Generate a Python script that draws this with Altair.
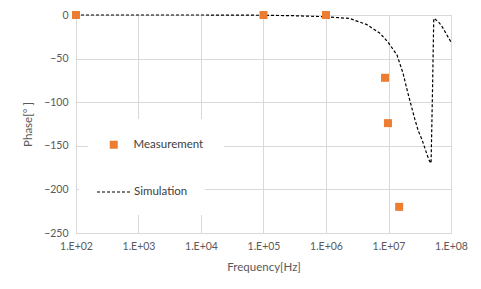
import altair as alt
import pandas as pd

meas_freq = [1e2, 1e5, 1e6, 8.8e6, 9.8e6, 1.48e7]
meas_phase = [0, 0, 0, -72, -124, -220]

sim_freq = [1e2, 1e3, 1e4, 1e5, 3e5, 1e6, 2.4e6, 4.5e6, 7.3e6, 9.8e6, 1.37e7, 1.71e7,
            2.05e7, 2.65e7, 3.0e7, 3.44e7, 4.13e7, 4.5e7, 4.8e7, 5.05e7, 5.3e7, 5.6e7,
            6.5e7, 7.45e7, 8.6e7, 1e8]
sim_phase = [0, 0, 0, -0.3, -0.8, -2, -4, -11, -21, -31, -46, -67,
             -90, -120, -133, -143, -160, -167, -170, -90, -4, -5,
             -9, -15, -23, -31]

x_ticks = [1e2, 1e3, 1e4, 1e5, 1e6, 1e7, 1e8]
y_ticks = [0, -50, -100, -150, -200, -250]

FONT = "Lato"
GRID = "#d9d9d9"
TXT = "#595959"

meas = pd.DataFrame({"f": meas_freq, "p": meas_phase, "s": ["Measurement"] * len(meas_freq)})
sim = pd.DataFrame({"f": sim_freq, "p": sim_phase, "s": ["Simulation"] * len(sim_freq)})

xscale = alt.Scale(type="log", domain=[1e2, 1e8], nice=False)
yscale = alt.Scale(domain=[-250, 0], nice=False)

xaxis = alt.Axis(values=x_ticks, title="Frequency[Hz]",
                 labelExpr="'1.E+' + format(round(log(datum.value)/LN10), '02d')",
                 grid=True, gridColor=GRID, domainColor=GRID, ticks=False, labelFlush=False,
                 labelColor=TXT, labelFontSize=10.5, labelPadding=8, labelFont=FONT,
                 titleColor=TXT, titleFontSize=11.5, titleFontWeight="normal", titleFont=FONT,
                 titlePadding=10)
yaxis = alt.Axis(values=y_ticks, title="Phase[°  ]",
                 grid=True, gridColor=GRID, domainColor=GRID, ticks=False, labelFlush=False,
                 labelColor=TXT, labelFontSize=10.5, labelPadding=8, labelFont=FONT,
                 titleColor=TXT, titleFontSize=11.5, titleFontWeight="normal", titleFont=FONT,
                 titlePadding=10)

line = alt.Chart(sim).mark_line(color="black", strokeWidth=1.2, strokeDash=[3, 2]).encode(
    x=alt.X("f:Q", scale=xscale, axis=xaxis),
    y=alt.Y("p:Q", scale=yscale, axis=yaxis),
    strokeDash=alt.StrokeDash("s:N", scale=alt.Scale(domain=["Simulation"], range=[[3, 2]]),
        legend=alt.Legend(title=None, orient="none", legendX=3, legendY=142,
                          symbolType="stroke", symbolSize=1156, symbolStrokeColor="black",
                          symbolStrokeWidth=1.2, labelOffset=2, labelFontSize=11.5,
                          labelColor="#404040", labelFont=FONT, fillColor="white",
                          padding=17)),
)

pts = alt.Chart(meas).mark_point(shape="square", filled=True, size=64, opacity=1).encode(
    x=alt.X("f:Q", scale=xscale),
    y=alt.Y("p:Q", scale=yscale),
    color=alt.Color("s:N", scale=alt.Scale(domain=["Measurement"], range=["#ED7D31"]),
        legend=alt.Legend(title=None, orient="none", legendX=12, legendY=104,
                          symbolType="square", symbolSize=64, symbolOpacity=1,
                          labelOffset=14, labelFontSize=11.5, labelColor="#404040",
                          labelFont=FONT, fillColor="white", padding=20)),
)

chart = alt.layer(line, pts).properties(
    width=375, height=218,
    autosize=alt.AutoSizeParams(type="none"),
    padding={"left": 76, "top": 15, "right": 30, "bottom": 56},
).configure_view(stroke=None).configure(background="white")

chart.save("out.html", embed_options={"renderer": "svg", "actions": False})
